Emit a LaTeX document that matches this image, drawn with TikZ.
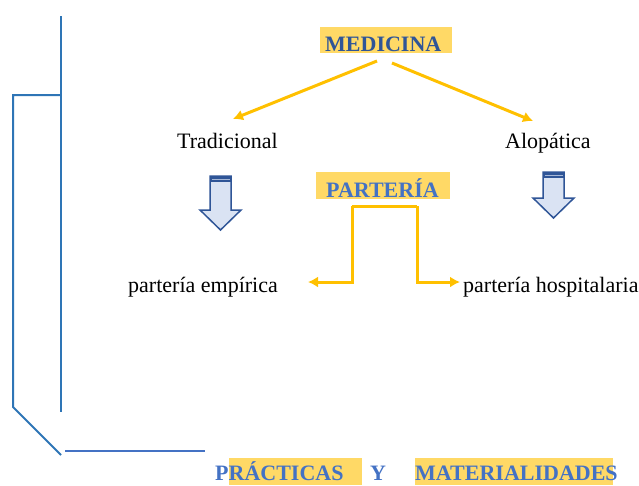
\documentclass[tikz,border=0pt]{standalone}
\usepackage{fontspec}
\setmainfont{Liberation Serif}
\usetikzlibrary{arrows.meta}
\definecolor{hlyellow}{HTML}{FFD966}
\definecolor{linkyellow}{HTML}{FFC000}
\definecolor{darkblue}{HTML}{2F5597}
\definecolor{midblue}{HTML}{4472C4}
\definecolor{lineblue}{HTML}{2E75B6}
\definecolor{paleblue}{HTML}{DAE3F3}
\tikzset{
  word/.style={inner sep=0pt,anchor=base west,font=\fontsize{22}{26}\selectfont},
  title/.style={word,font=\fontsize{22}{26}\selectfont\bfseries},
  glow/.style={fill=hlyellow},
  link/.style={draw=linkyellow,line width=3pt,-{Latex[length=10pt,width=11pt]}},
  bracket/.style={draw=lineblue,line width=2pt}
}
\begin{document}
\begin{tikzpicture}[x=1pt,y=-1pt]
\useasboundingbox (0,0) rectangle (639,485);
% highlights behind the titles
\fill[glow] (320,27) rectangle (452,53);
\fill[glow] (316,172) rectangle (450,199);
\fill[glow] (229,458) rectangle (362,485);
\fill[glow] (415,458) rectangle (613,485);
% titles and words
\node[title,text=darkblue] (medicina) at (325,51) {MEDICINA};
\node[title,text=midblue] (parteria) at (326,197) {PARTERÍA};
\node[word] (tradicional) at (177,148) {Tradicional};
\node[word] (alopatica) at (505,148) {Alopática};
\node[word] (empirica) at (128,292) {partería empírica};
\node[word] (hospitalaria) at (463,292) {partería hospitalaria};
\node[title,text=midblue] (practicas) at (215,480) {PRÁCTICAS};
\node[title,text=midblue] (y) at (370,480) {Y};
\node[title,text=midblue] (materialidades) at (415,480) {MATERIALIDADES};
% yellow connectors
\coordinate (medL) at (377,61);
\coordinate (medR) at (392,63);
\coordinate (tradIn) at (233,119);
\coordinate (aloIn) at (533,121);
\draw[link] (medL) -- (tradIn);
\draw[link] (medR) -- (aloIn);
\coordinate (forkL) at (352,206);
\coordinate (forkR) at (417,206);
\coordinate (empIn) at (308,282);
\coordinate (hospIn) at (460,282);
\draw[link,-] (forkL) -- (forkR);
\draw[link] (forkL) |- (empIn);
\draw[link] (forkR) |- (hospIn);
% block arrows
\foreach \cx/\top/\sh/\tip in {220.5/176/210/230, 553.5/172/198/218}{
  \draw[fill=paleblue,draw=darkblue,line width=1.5pt,line join=miter]
    (\cx-10.5,\top) -- (\cx+10.5,\top) -- (\cx+10.5,\sh) -- (\cx+20.5,\sh)
    -- (\cx,\tip) -- (\cx-20.5,\sh) -- (\cx-10.5,\sh) -- cycle;
  \fill[darkblue] (\cx-10.5,\top) rectangle (\cx+10.5,\top+6);
  \draw[paleblue!70!darkblue,line width=0.8pt] (\cx-9,\top+3) -- (\cx+9,\top+3);
}
% blue bracket on the left
\coordinate (spineTop) at (61,16);
\coordinate (spineBot) at (61,412);
\coordinate (armTop) at (61,95);
\coordinate (cornerA) at (13,95);
\coordinate (cornerB) at (13,407);
\coordinate (armEnd) at (61,455);
\draw[bracket] (spineTop) -- (spineBot);
\draw[bracket] (armTop) -- (cornerA) -- (cornerB) -- (armEnd);
\coordinate (baseL) at (65,451);
\coordinate (baseR) at (205,451);
\draw[draw=midblue,line width=2pt] (baseL) -- (baseR);
\end{tikzpicture}
\end{document}
